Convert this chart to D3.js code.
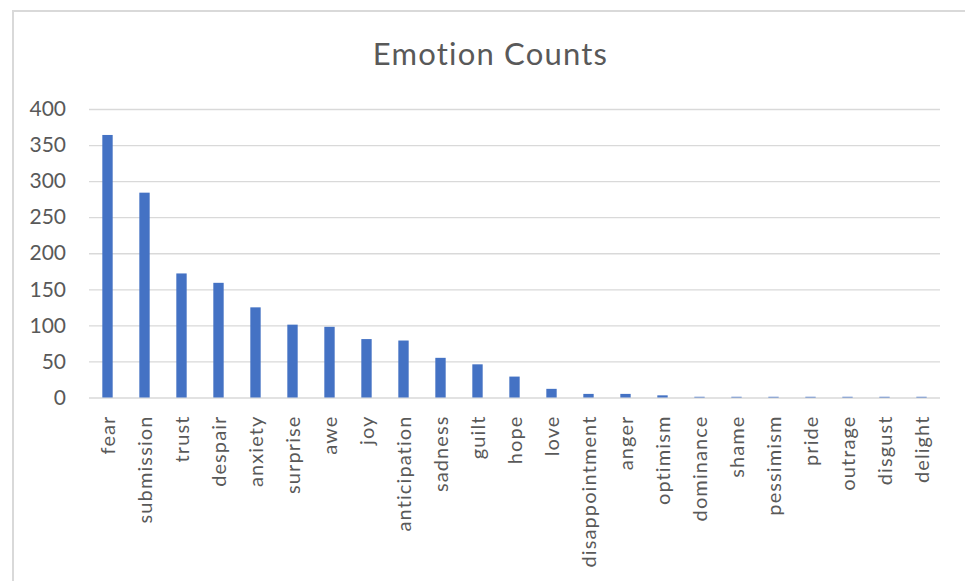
<!DOCTYPE html>
<html><head><meta charset="utf-8">
<script src="https://cdn.jsdelivr.net/npm/d3@7"></script>
<style>body{margin:0;background:#fff}svg{display:block}</style>
</head><body>
<svg id="c" width="965" height="581"></svg>
<script>
const categories = ["fear","submission","trust","despair","anxiety","surprise","awe","joy","anticipation","sadness","guilt","hope","love","disappointment","anger","optimism","dominance","shame","pessimism","pride","outrage","disgust","delight"];
const counts = [364,284,172,159,125,101,98,81,79,55,46,29,12,5,5,3,1,1,1,1,1,1,1];
const yTicks = [0,50,100,150,200,250,300,350,400];
const title = "Emotion Counts";

const svg = d3.select("#c");
const font = "Lato, 'Open Sans', sans-serif";
const m = {left:89, right:940, top:109, bottom:397.5};

svg.append("rect").attr("x",13).attr("y",11).attr("width",970).attr("height",600)
  .attr("fill","#fff").attr("stroke","#d9d9d9").attr("stroke-width",2);

svg.append("text").attr("x",490.5).attr("y",65).attr("text-anchor","middle")
  .attr("font-family",font).attr("font-size",31).attr("letter-spacing",1.2)
  .attr("fill","#595959").text(title);

const x = d3.scaleBand().domain(categories).range([m.left,m.right]).paddingInner(0.72).paddingOuter(0.36);
const y = d3.scaleLinear().domain([0,400]).range([m.bottom,m.top]);

const ga = svg.append("g").attr("transform",`translate(${m.left},0)`)
  .call(d3.axisLeft(y).tickValues(yTicks).tickSize(-(m.right-m.left)).tickPadding(23));
ga.select(".domain").remove();
ga.selectAll(".tick line").attr("stroke","#d9d9d9").attr("stroke-width",1.3);
ga.selectAll(".tick text").attr("font-family",font).attr("font-size",21).attr("fill","#595959");

svg.append("g").selectAll("rect").data(categories).join("rect")
  .attr("x",d=>x(d)).attr("width",x.bandwidth())
  .attr("y",(d,i)=>y(counts[i])).attr("height",(d,i)=>y(0)-y(counts[i]))
  .attr("fill","#4472C4");

const gx = svg.append("g").attr("transform",`translate(0,${m.bottom})`)
  .call(d3.axisBottom(x).tickSize(0).tickPadding(0));
gx.select(".domain").remove();
gx.selectAll(".tick text")
  .attr("transform","translate(0,18) rotate(-90)")
  .attr("text-anchor","end").attr("dy","0.35em").attr("x",0).attr("y",0)
  .attr("font-family",font).attr("font-size",20).attr("letter-spacing",1.1).attr("fill","#595959");
</script>
</body></html>
